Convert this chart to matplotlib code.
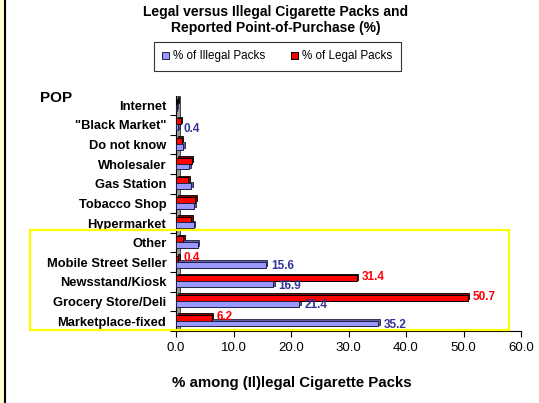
import matplotlib
matplotlib.use("Agg")
import matplotlib.pyplot as plt
import matplotlib.transforms as mtransforms
from matplotlib.patches import Rectangle
import numpy as np

plt.rcParams['font.family'] = ['Liberation Sans', 'DejaVu Sans']

categories = ["Internet", "\"Black Market\"", "Do not know", "Wholesaler", "Gas Station",
              "Tobacco Shop", "Hypermarket", "Other", "Mobile Street Seller",
              "Newsstand/Kiosk", "Grocery Store/Deli", "Marketplace-fixed"]
illegal = [0.1, 0.4, 1.3, 2.3, 2.6, 3.2, 3.1, 3.8, 15.6, 16.9, 21.4, 35.2]
legal = [0.2, 0.8, 1.0, 2.7, 2.1, 3.3, 2.6, 1.2, 0.4, 31.4, 50.7, 6.2]
labels_illegal = {"\"Black Market\"": "0.4", "Mobile Street Seller": "15.6",
                  "Newsstand/Kiosk": "16.9", "Grocery Store/Deli": "21.4",
                  "Marketplace-fixed": "35.2"}
labels_legal = {"Mobile Street Seller": "0.4", "Newsstand/Kiosk": "31.4",
                "Grocery Store/Deli": "50.7", "Marketplace-fixed": "6.2"}
xticks = [0, 10, 20, 30, 40, 50, 60]

W, H = 539, 403
fig = plt.figure(figsize=(W / 100, H / 100), dpi=100)
ax = fig.add_axes([176 / W, 1 - 331 / H, 345 / W, 235 / H])

n = len(categories)
y = np.arange(n)
bh = 0.30
y_leg = y - 0.18
y_ill = y + 0.12

# 3D depth (shadow) bars
off = mtransforms.offset_copy(ax.transData, fig=fig, x=1.6, y=1.6, units='dots')
ax.barh(y_leg, legal, height=bh, color='#7a0000', edgecolor='#000000', linewidth=0.6,
        transform=off, zorder=2)
ax.barh(y_ill, illegal, height=bh, color='#5c5ca8', edgecolor='#202040', linewidth=0.6,
        transform=off, zorder=2)
ax.barh(y_leg, legal, height=bh, color='#FF0000', edgecolor='#000000', linewidth=0.7, zorder=3)
ax.barh(y_ill, illegal, height=bh, color='#9999FF', edgecolor='#202040', linewidth=0.7, zorder=3)

for i, c in enumerate(categories):
    if c in labels_illegal:
        ax.text(illegal[i] + 0.9, y_ill[i] + 0.08, labels_illegal[c], color='#333399',
                fontsize=8.5, fontweight='bold', va='center', ha='left', zorder=4)
    if c in labels_legal:
        ax.text(legal[i] + 0.9, y_leg[i] - 0.05, labels_legal[c], color='#FF0000',
                fontsize=8.5, fontweight='bold', va='center', ha='left', zorder=4)

ax.set_xlim(0, 60)
ax.set_ylim(n - 0.55, -0.47)
ax.set_xticks(xticks)
ax.set_xticklabels([f"{v:.1f}" for v in xticks], fontsize=9.5)
ax.set_yticks(y)
ax.set_yticklabels(categories, fontsize=9.3, fontweight='bold')
ax.set_yticks(np.arange(n) + 0.5, minor=True)
ax.tick_params(axis='y', which='major', length=0, pad=7)
ax.tick_params(axis='y', which='minor', length=4, width=0.8, direction='out')
ax.tick_params(axis='x', which='major', length=4, width=0.8, direction='out', pad=4)
for s in ['top', 'right']:
    ax.spines[s].set_visible(False)
ax.spines['left'].set_linewidth(0.8)
ax.spines['bottom'].set_linewidth(0.8)

# grey wall
ax.add_patch(Rectangle((0, 0), 4 / 345, 1, transform=ax.transAxes, facecolor='#999999',
                       edgecolor='#333333', linewidth=0.6, zorder=1, clip_on=False))

# left border strip
fig.patches.append(Rectangle((0, 0), 4 / W, 1, transform=fig.transFigure,
                             facecolor='#FFFFCC', edgecolor='none', zorder=0))
fig.lines.append(plt.Line2D([4.5 / W, 4.5 / W], [0, 1], transform=fig.transFigure,
                            color='black', linewidth=1.5))

# yellow highlight box
fig.patches.append(Rectangle((30 / W, 1 - 330 / H), 479 / W, 100 / H,
                             transform=fig.transFigure, facecolor='none',
                             edgecolor='#FFFF00', linewidth=1.6, zorder=5))

fig.text(276 / W, 1 - 12 / H, "Legal versus Illegal Cigarette Packs and",
         ha='center', va='center', fontsize=10, fontweight='bold')
fig.text(276 / W, 1 - 28 / H, "Reported Point-of-Purchase (%)",
         ha='center', va='center', fontsize=10, fontweight='bold')
fig.text(40 / W, 1 - 98 / H, "POP", ha='left', va='center', fontsize=11, fontweight='bold')
fig.text(292 / W, 1 - 383 / H, "% among (Il)legal Cigarette Packs",
         ha='center', va='center', fontsize=10.8, fontweight='bold')

h1 = Rectangle((0, 0), 1, 1, facecolor='#9999FF', edgecolor='#202040', linewidth=0.7)
h2 = Rectangle((0, 0), 1, 1, facecolor='#FF0000', edgecolor='#000000', linewidth=0.7)
leg = fig.legend([h1, h2], ["% of Illegal Packs", "% of Legal Packs"], ncol=2,
                 loc='center', bbox_to_anchor=(277.5 / W, 1 - 56.5 / H), fontsize=8.4,
                 frameon=True, fancybox=False, edgecolor='black', handlelength=0.6,
                 handleheight=0.6, handletextpad=0.35, columnspacing=2.2,
                 borderpad=0.7)
leg.get_frame().set_linewidth(0.8)

fig.savefig("out.png", dpi=100)
